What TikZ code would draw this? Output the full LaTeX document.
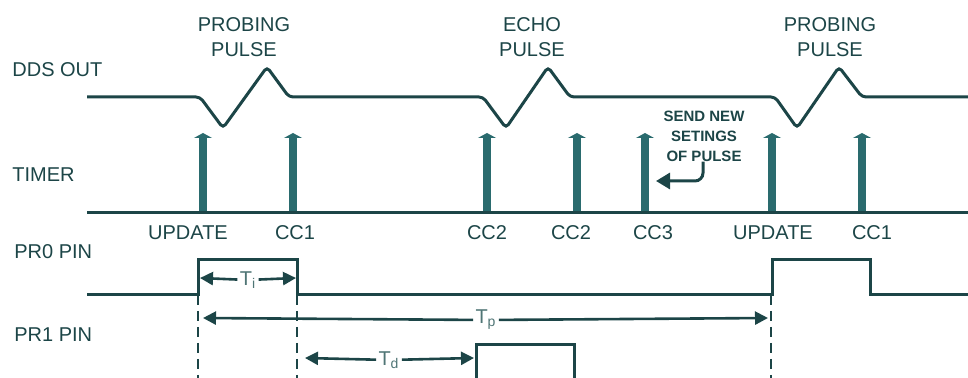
\documentclass[tikz,border=0pt]{standalone}
\usepackage{fontspec}
\setmainfont{Liberation Sans}
\usetikzlibrary{arrows.meta, positioning}
\definecolor{waveteal}{HTML}{1C4547}
\definecolor{barteal}{HTML}{2A6B6E}
\definecolor{dimteal}{HTML}{4F7575}

\begin{document}
\begin{tikzpicture}[x=0.5pt, y=-0.5pt, >=Stealth, font=\fontsize{10}{12.5}\selectfont, text=waveteal,
    wave/.style={draw=waveteal, line width=1.5pt, rounded corners=2pt},
    timerbar/.style={draw=barteal, line width=4pt, -{Triangle[length=2.5pt, width=9pt]}},
    rowlabel/.style={anchor=west, inner sep=0pt},
    pulselabel/.style={align=center, inner sep=0pt},
    dimline/.style={draw=waveteal, line width=1.2pt, dash pattern=on 5pt off 3pt},
    dimarrow/.style={draw=waveteal, line width=1.3pt, -{Triangle[length=6.5pt, width=6.5pt]}},
    dimlabel/.style={fill=white, inner sep=1pt, text=dimteal}]
    \useasboundingbox (0,0) rectangle (968,378);

    % row labels
    \node[rowlabel] (dds) at (12,70) {DDS OUT};
    \node[rowlabel] (timer) at (12,175) {TIMER};
    \node[rowlabel] (pr0) at (14,252) {PR0 PIN};
    \node[rowlabel] (pr1) at (14,335) {PR1 PIN};

    % pulse labels
    \node[pulselabel] (probe1) at (244,37) {PROBING\\PULSE};
    \node[pulselabel] (echo) at (532,37) {ECHO\\PULSE};
    \node[pulselabel] (probe2) at (830,37) {PROBING\\PULSE};

    % DDS output
    \draw[wave] (87,97) -- (200,97) -- (223,128) -- (267,67) -- (289,97)
        -- (483,97) -- (506,128) -- (548,67) -- (570,97)
        -- (775,97) -- (797,128) -- (839,67) -- (862,97) -- (968,97);

    % timer events
    \foreach \x/\n in {203/1, 293/2, 487/3, 577/4, 645/5, 772/6, 862/7} {
        \coordinate (ev\n) at (\x,213);
        \draw[timerbar] (ev\n) -- (\x,133);
    }
    \draw[wave] (87,213) -- (968,213);
    \foreach \x/\t [count=\n] in {188/UPDATE, 295/CC1, 487/CC2, 571/CC2, 653/CC3, 773/UPDATE, 872/CC1}
        \node (evlab\n) at (\x,233) {\t};

    % note on CC3
    \node[pulselabel, font=\fontsize{7.5}{10}\selectfont\bfseries] (note) at (704,136) {SEND NEW\\SETINGS\\OF PULSE};
    \coordinate (notetip) at (656,181);
    \draw[draw=waveteal, line width=1.5pt, rounded corners=4pt, -{Triangle[length=7pt, width=8pt]}]
        (note.south -| 703,0) |- (notetip);

    % PR0 pin
    \draw[wave, rounded corners=0pt] (87,295) -- (198,295) -- (198,260) -- (297,260) -- (297,295)
        -- (772,295) -- (772,260) -- (870,260) -- (870,295) -- (968,295);

    % PR1 pin
    \draw[wave, rounded corners=0pt] (476,378) -- (476,345) -- (574,345) -- (574,378);

    % dashed markers
    \coordinate (m1) at (198,295);
    \coordinate (m2) at (297,295);
    \coordinate (m3) at (771,295);
    \draw[dimline] (m1) -- (198,378);
    \draw[dimline] (m2) -- (297,378);
    \draw[dimline] (m3) -- (771,378);

    % time spans
    \node[dimlabel] (ti) at (248,280) {T\textsubscript{i}};
    \draw[dimarrow] (ti) -- (200,278);
    \draw[dimarrow] (ti) -- (296,278);

    \node[dimlabel] (tp) at (486,320) {T\textsubscript{p}};
    \draw[dimarrow] (tp) -- (203,318);
    \draw[dimarrow] (tp) -- (768,318);

    \node[dimlabel] (td) at (389,360) {T\textsubscript{d}};
    \draw[dimarrow] (td) -- (305,358);
    \draw[dimarrow] (td) -- (474,358);
\end{tikzpicture}
\end{document}
